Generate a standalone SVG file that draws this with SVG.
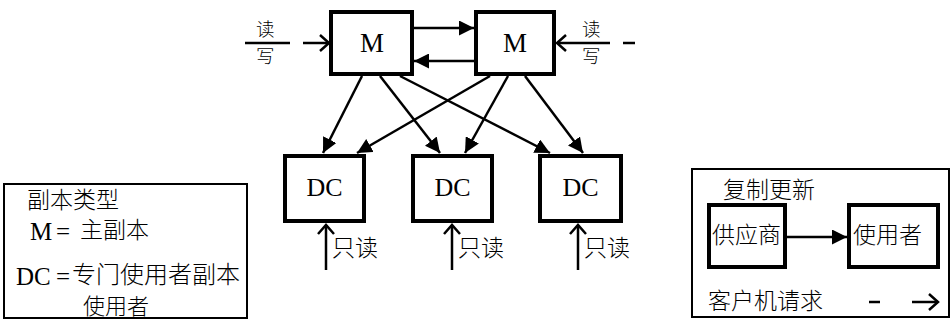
<svg xmlns="http://www.w3.org/2000/svg" width="952" height="330" viewBox="0 0 952 330">
<style>
.box{fill:#fff;stroke:#000;stroke-width:4}
.leg{fill:#fff;stroke:#000;stroke-width:2}
.ln{stroke:#000;stroke-width:2.5;fill:none}
.lat{font-family:"Liberation Serif",serif;font-size:26px;fill:#000}
.cjk{font-family:"Noto Sans CJK SC",sans-serif;font-size:23px;font-weight:300;fill:#000}
.sl{font-family:"Liberation Serif",serif;font-size:25px;font-weight:400}
.rw{font-size:18.5px}
.open{stroke:#000;stroke-width:2.5;fill:none}
</style>
<defs>
<marker id="fill" viewBox="0 0 10 10" refX="10" refY="5" markerWidth="6" markerHeight="6" markerUnits="strokeWidth" orient="auto">
<path d="M0,0 L10,5 L0,10 z" fill="#000"/>
</marker>
</defs>
<rect width="952" height="330" fill="#fff"/>
<g id="connectors">
<line class="ln" x1="413" y1="28" x2="474" y2="28" marker-end="url(#fill)"/>
<line class="ln" x1="475" y1="61" x2="414" y2="61" marker-end="url(#fill)"/>
<line class="ln" x1="362" y1="76" x2="323" y2="153" marker-end="url(#fill)"/>
<line class="ln" x1="380" y1="76" x2="440" y2="153" marker-end="url(#fill)"/>
<line class="ln" x1="400" y1="76" x2="550" y2="153" marker-end="url(#fill)"/>
<line class="ln" x1="490" y1="76" x2="357" y2="153" marker-end="url(#fill)"/>
<line class="ln" x1="508" y1="76" x2="465" y2="153" marker-end="url(#fill)"/>
<line class="ln" x1="525" y1="76" x2="583" y2="153" marker-end="url(#fill)"/>
<line class="ln" x1="245" y1="43" x2="290" y2="43"/>
<line class="ln" x1="303" y1="43" x2="329" y2="43"/>
<path class="open" d="M320,35 L329,43 L320,51"/>
<line class="ln" x1="557" y1="43" x2="610" y2="43"/>
<line class="ln" x1="623" y1="43" x2="635" y2="43"/>
<path class="open" d="M566,35 L557,43 L566,51"/>
<line class="ln" x1="326" y1="270" x2="326" y2="225"/>
<path class="open" d="M318,234 L326,225 L334,234"/>
<line class="ln" x1="452" y1="270" x2="452" y2="225"/>
<path class="open" d="M444,234 L452,225 L460,234"/>
<line class="ln" x1="578" y1="270" x2="578" y2="225"/>
<path class="open" d="M570,234 L578,225 L586,234"/>
</g>
<g id="m1"><rect class="box" x="331" y="12" width="81" height="62"/><text class="lat" x="372" y="52" text-anchor="middle" style="font-size:27px">M</text></g>
<g id="m2"><rect class="box" x="476" y="12" width="78" height="62"/><text class="lat" x="515" y="52" text-anchor="middle" style="font-size:27px">M</text></g>
<g id="dc1"><rect class="box" x="285" y="156" width="79" height="65"/><text class="lat" x="324.5" y="196" text-anchor="middle">DC</text></g>
<g id="dc2"><rect class="box" x="413" y="156" width="79" height="65"/><text class="lat" x="452.5" y="196" text-anchor="middle">DC</text></g>
<g id="dc3"><rect class="box" x="540" y="156" width="81" height="65"/><text class="lat" x="580.5" y="196" text-anchor="middle">DC</text></g>
<g id="rw-left"><text class="cjk rw" x="256" y="36">读</text><text class="cjk rw" x="256" y="63">写</text></g>
<g id="rw-right"><text class="cjk rw" x="582" y="36">读</text><text class="cjk rw" x="582" y="63">写</text></g>
<g id="ro1"><text class="cjk" x="332" y="256">只读</text></g>
<g id="ro2"><text class="cjk" x="458" y="256">只读</text></g>
<g id="ro3"><text class="cjk" x="584" y="256">只读</text></g>
<g id="legend-types">
<rect class="leg" x="4" y="184" width="243" height="134"/>
<text class="cjk" x="27" y="208">副本类型</text>
<text class="cjk"><tspan class="sl" x="30" y="240">M</tspan><tspan class="sl" x="56" y="240">=</tspan><tspan x="80" y="238">主副本</tspan></text>
<text class="cjk"><tspan class="sl" x="16" y="285">DC</tspan><tspan class="sl" x="56" y="285">=</tspan><tspan x="72" y="283" style="font-size:24px">专门使用者副本</tspan></text>
<text class="cjk" x="83" y="314" style="font-size:22px">使用者</text>
</g>
<g id="legend-update">
<rect class="leg" x="692" y="169" width="257" height="148"/>
<text class="cjk" x="723" y="198">复制更新</text>
<g id="supplier"><rect class="box" x="709" y="205" width="76" height="62"/><text class="cjk" x="712" y="243">供应商</text></g>
<g id="consumer"><rect class="box" x="849" y="205" width="89" height="62"/><text class="cjk" x="853" y="243">使用者</text></g>
<line class="ln" x1="786" y1="237" x2="847" y2="237" marker-end="url(#fill)"/>
<text class="cjk" x="708" y="309">客户机请求</text>
<line class="ln" x1="869" y1="302" x2="880" y2="302"/>
<line class="ln" x1="912" y1="302" x2="938" y2="302"/>
<path class="open" d="M929,294 L938,302 L929,310"/>
</g>
</svg>
